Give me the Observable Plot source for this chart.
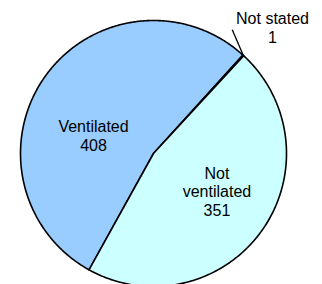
<!DOCTYPE html>
<html><head><meta charset="utf-8">
<script src="https://cdn.jsdelivr.net/npm/d3@7"></script>
<script src="https://cdn.jsdelivr.net/npm/@observablehq/plot@0.6"></script>
<style>html,body{margin:0;padding:0;overflow:hidden;background:#fff}</style>
</head><body><div id="chart"></div>
<script>
// Data
const categories = ["Ventilated", "Not stated", "Not ventilated"];
const counts = [408, 1, 351];
const colors = ["#99CCFF", "#FFFFFF", "#CCFFFF"];

// Layout (unit-circle space)
const startDeg = 209;
const labelPos = {
  "Ventilated": [-0.451, 0.1376],
  "Not stated": [0.895, 0.948],
  "Not ventilated": [0.477, -0.285]
};
const leaderEnd = [0.592, 0.930];

const table = categories.map((c, i) => ({category: c, value: counts[i]}));
const arcs = d3.pie().sort(null).value(d => d.value)
  .startAngle(startDeg * Math.PI / 180)
  .endAngle((startDeg + 360) * Math.PI / 180)(table);

const pts = [];
arcs.forEach(a => {
  const n = Math.max(2, Math.ceil((a.endAngle - a.startAngle) / (Math.PI / 360)));
  pts.push({category: a.data.category, x: 0, y: 0});
  for (let k = 0; k <= n; k++) {
    const t = a.startAngle + (a.endAngle - a.startAngle) * k / n;
    pts.push({category: a.data.category, x: Math.sin(t), y: Math.cos(t)});
  }
  pts.push({category: a.data.category, x: 0, y: 0});
});

const ns = arcs.find(a => a.data.category === "Not stated");
const nsMid = (ns.startAngle + ns.endAngle) / 2;
const leader = [{x1: Math.sin(nsMid), y1: Math.cos(nsMid), x2: leaderEnd[0], y2: leaderEnd[1]}];

const labels = table.map(d => ({
  x: labelPos[d.category][0],
  y: labelPos[d.category][1],
  text: (d.category === "Not ventilated" ? "Not\nventilated" : d.category) + "\n" + d.value
}));

const chart = Plot.plot({
  width: 322,
  height: 284,
  x: {domain: [-1, 1], range: [20, 286], axis: null},
  y: {domain: [-1, 1], range: [286, 20], axis: null},
  color: {domain: categories, range: colors},
  style: {fontFamily: "'Liberation Sans', Arial, sans-serif", background: "#fff", overflow: "hidden"},
  marks: [
    Plot.line(pts, {x: "x", y: "y", z: "category", fill: "category", stroke: "#000", strokeWidth: 1.6, strokeLinejoin: "round", curve: "linear"}),
    Plot.link(leader, {x1: "x1", y1: "y1", x2: "x2", y2: "y2", stroke: "#000", strokeWidth: 1.3}),
    Plot.text(labels, {x: "x", y: "y", text: "text", fontSize: 16, lineHeight: 1.17, fill: "#000"})
  ]
});
document.getElementById("chart").appendChild(chart);
</script>
</body></html>
